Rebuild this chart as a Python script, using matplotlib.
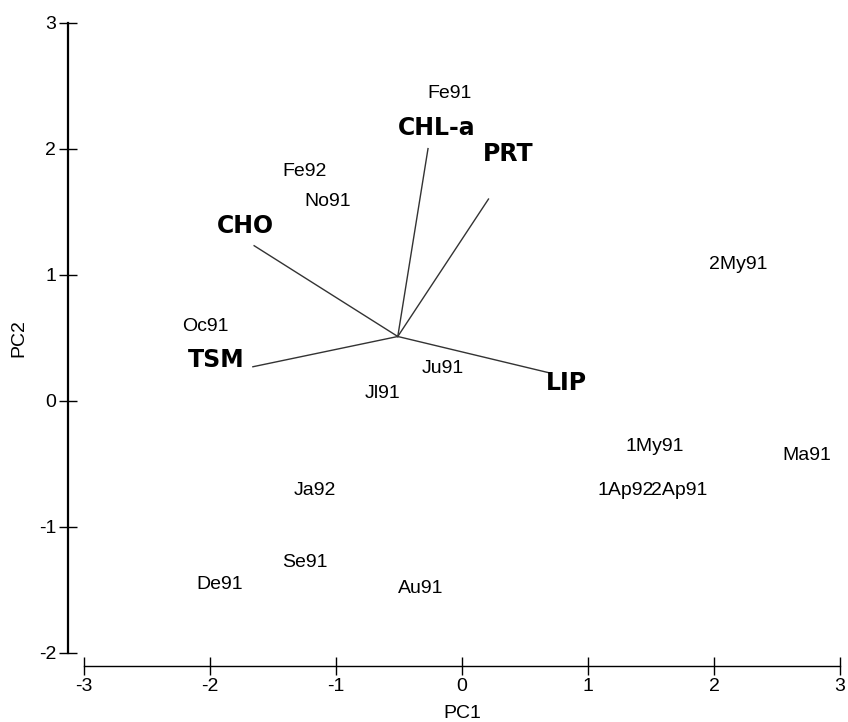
import matplotlib
matplotlib.use("Agg")
import matplotlib.pyplot as plt

# PCA biplot: sampling dates (scores) and variables (loadings)
samples = ["Fe91", "Fe92", "No91", "Oc91", "Jl91", "Ju91", "2My91", "1My91",
           "Ma91", "1Ap92", "2Ap91", "Ja92", "Se91", "De91", "Au91"]
pc1 = [-0.10, -1.25, -1.07, -2.04, -0.63, -0.15, 2.19, 1.53,
       2.74, 1.30, 1.72, -1.17, -1.25, -1.92, -0.33]
pc2 = [2.44, 1.82, 1.58, 0.59, 0.06, 0.26, 1.08, -0.36,
       -0.43, -0.71, -0.71, -0.71, -1.28, -1.46, -1.49]

variables = ["CHL-a", "PRT", "CHO", "TSM", "LIP"]
origin = (-0.51, 0.51)
vec_x = [-0.27, 0.21, -1.65, -1.66, 0.70]
vec_y = [2.00, 1.60, 1.23, 0.27, 0.22]
lab_x = [-0.20, 0.37, -1.72, -1.95, 0.83]
lab_y = [2.16, 1.96, 1.39, 0.32, 0.14]

plt.rcParams['font.family'] = ['Liberation Sans', 'DejaVu Sans']
plt.rcParams['axes.unicode_minus'] = False

fig = plt.figure(figsize=(8.48, 7.22), dpi=100)
ax = fig.add_axes([0.0991, 0.0956, 0.8915, 0.8732])

for name, x, y in zip(samples, pc1, pc2):
    ax.text(x, y, name, ha='center', va='center', fontsize=14, color='black')

for name, vx, vy, lx, ly in zip(variables, vec_x, vec_y, lab_x, lab_y):
    ax.plot([origin[0], vx], [origin[1], vy], color='#333333', lw=1.0)
    ax.text(lx, ly, name, ha='center', va='center', fontsize=17,
            fontweight='bold', family='DejaVu Sans', color='black')

ax.set_xlim(-3, 3)
ax.set_ylim(-2, 3)
ax.set_xticks(range(-3, 4))
ax.set_yticks(range(-2, 4))

ax.spines['top'].set_visible(False)
ax.spines['right'].set_visible(False)
ax.spines['left'].set_position(('outward', 11.5))
ax.spines['bottom'].set_position(('outward', 9.4))
ax.spines['left'].set_linewidth(1.6)
ax.spines['bottom'].set_linewidth(1.0)
ax.tick_params(direction='inout', length=13, width=1, labelsize=14, pad=2)

ax.set_xlabel('PC1', fontsize=14, labelpad=7)
ax.set_ylabel('PC2', fontsize=14, labelpad=8)

fig.savefig('out.png', dpi=100)
